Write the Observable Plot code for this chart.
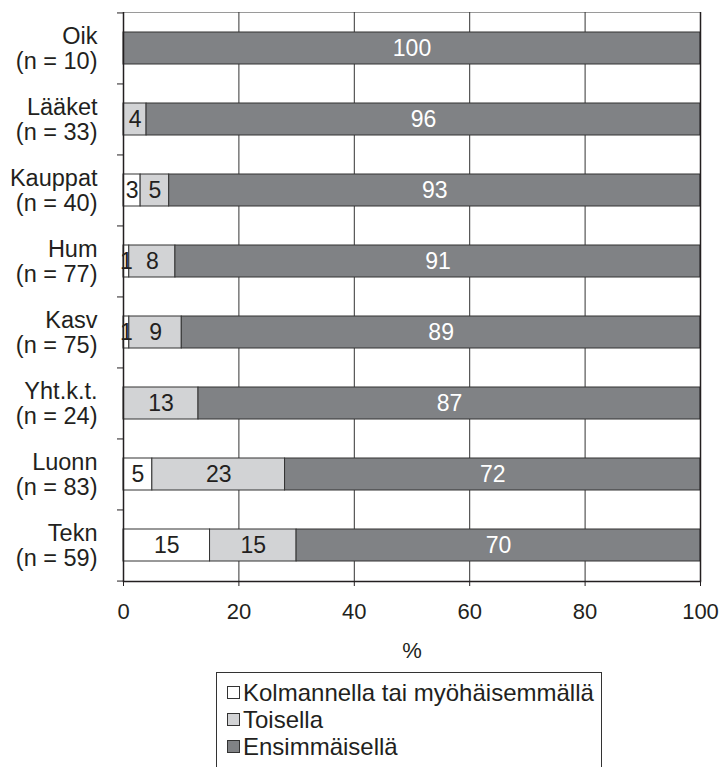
<!DOCTYPE html>
<html>
<head>
<meta charset="utf-8">
<script src="https://cdn.jsdelivr.net/npm/d3@7"></script>
<script src="https://cdn.jsdelivr.net/npm/@observablehq/plot@0.6"></script>
<style>
  body { margin: 0; background: #fff; font-family: "Liberation Sans", Arial, sans-serif; }
  #legend { margin-left: 216px; margin-top: 7px; width: 386px; height: 110px; border: 1px solid #333; box-sizing: border-box; padding: 6px 0 0 10px; }
  .item { display: flex; align-items: center; font-size: 24px; color: #231f20; height: 27px; }
  .sw { width: 13px; height: 13px; border: 1px solid #333; margin-right: 3px; box-sizing: border-box; }
</style>
</head>
<body>
<div id="chart"></div>
<div id="legend"></div>
<script>
const categories = ["Oik", "Lääket", "Kauppat", "Hum", "Kasv", "Yht.k.t.", "Luonn", "Tekn"];
const nValues = [10, 33, 40, 77, 75, 24, 83, 59];
const series = ["Kolmannella tai myöhäisemmällä", "Toisella", "Ensimmäisellä"];
const kolmannella = [0, 0, 3, 1, 1, 0, 5, 15];
const toisella = [0, 4, 5, 8, 9, 13, 23, 15];
const ensimmaisella = [100, 96, 93, 91, 89, 87, 72, 70];
const xTicks = [0, 20, 40, 60, 80, 100];
const colors = ["#ffffff", "#d2d3d5", "#808285"];
const textColors = ["#231f20", "#231f20", "#ffffff"];

const seriesValues = [kolmannella, toisella, ensimmaisella];
const rows = [];
categories.forEach((c, i) => {
  series.forEach((s, j) => rows.push({cat: c, series: s, value: seriesValues[j][i]}));
});
const labelOf = Object.fromEntries(categories.map((c, i) => [c, `${c}\n(n = ${nValues[i]})`]));

const height = 665, marginTop = 12, marginBottom = 84;
const bw = (height - marginTop - marginBottom) / categories.length;

const chart = Plot.plot({
  width: 724,
  height,
  marginTop,
  marginBottom,
  marginLeft: 123,
  marginRight: 24,
  style: {fontFamily: "Liberation Sans, Arial, sans-serif", fontSize: "22px", color: "#231f20", background: "#fff"},
  x: {domain: [0, 1]},
  y: {domain: categories, paddingInner: 0.55, paddingOuter: 0.275},
  color: {domain: series, range: colors},
  marks: [
    Plot.frame({stroke: "#9a9a9a", strokeWidth: 1}),
    Plot.gridX(xTicks.map(d => d / 100), {stroke: "#333", strokeOpacity: 1, strokeWidth: 1}),
    Plot.barX(rows, Plot.stackX({x: "value", y: "cat", z: "series", fill: "series", offset: "normalize", stroke: "#333", strokeWidth: 1})),
    Plot.text(rows.filter(d => d.value > 0), Plot.stackX({
      x: "value", y: "cat", z: "series", offset: "normalize", text: d => String(d.value),
      fill: d => textColors[series.indexOf(d.series)], fontSize: 23
    })),
    Plot.ruleX([0, 1], {stroke: "#231f20", strokeWidth: 1.5}),
    Plot.axisX(xTicks.map(d => d / 100), {tickFormat: d => Math.round(d * 100), tickSize: 5, tickPadding: 17, fontSize: 22, label: "%", labelAnchor: "center", labelArrow: "none", labelOffset: 76, stroke: "#231f20"}),
    Plot.axisY({tickSize: 0, tickPadding: 26, tickFormat: d => labelOf[d], lineHeight: 1.05, fontSize: 23.5, label: null}),
    Plot.axisY(categories, {tickSize: 6, tickFormat: () => "", dy: -bw / 2, label: null, stroke: "#231f20"}),
    Plot.axisY(categories.slice(-1), {tickSize: 6, tickFormat: () => "", dy: bw / 2, label: null, stroke: "#231f20"}),
    Plot.frame({anchor: "bottom", stroke: "#231f20", strokeWidth: 1.5})
  ]
});
document.getElementById("chart").appendChild(chart);

const legend = document.getElementById("legend");
series.forEach((s, j) => {
  const item = document.createElement("div");
  item.className = "item";
  const sw = document.createElement("span");
  sw.className = "sw";
  sw.style.background = colors[j];
  item.appendChild(sw);
  item.appendChild(document.createTextNode(s));
  legend.appendChild(item);
});
</script>
</body>
</html>
